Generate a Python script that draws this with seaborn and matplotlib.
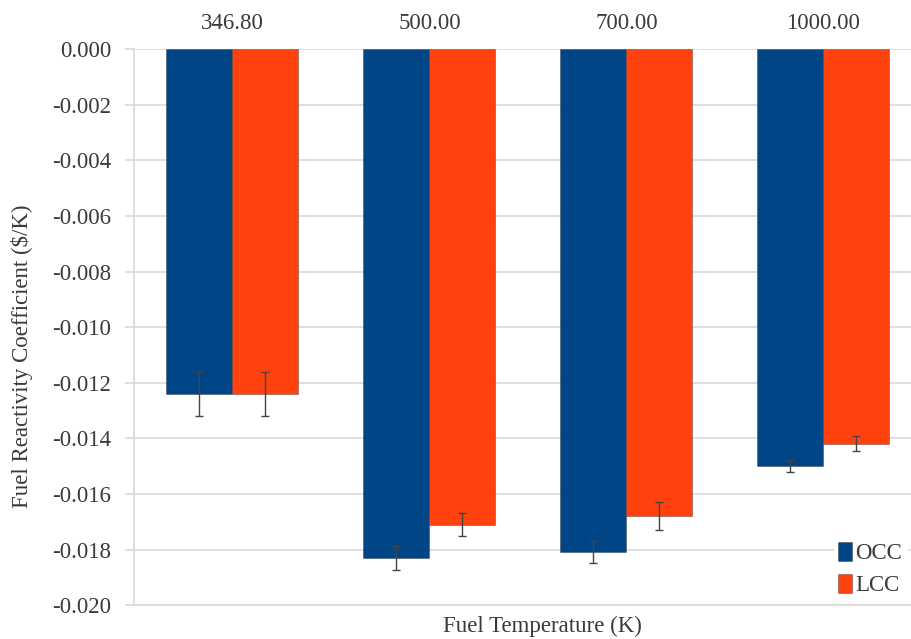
import pandas as pd
import numpy as np
import seaborn as sns
from matplotlib import pyplot as plt

temperaturas = ['346.80', '500.00', '700.00', '1000.00']
occ = [-0.0124, -0.0183, -0.0181, -0.0150]
lcc = [-0.0124, -0.0171, -0.0168, -0.0142]
occ_err = [0.0008, 0.00043, 0.0004, 0.00022]
lcc_err = [0.0008, 0.00041, 0.0005, 0.00027]
series = ['OCC', 'LCC']
colores = ['#004586', '#ff420e']
etiquetas_y = ['-0.020', '-0.018', '-0.016', '-0.014', '-0.012', '-0.010',
               '-0.008', '-0.006', '-0.004', '-0.002', '0.000']

df_ = pd.DataFrame({
    'temp': temperaturas * 2,
    'coef': occ + lcc,
    'err': occ_err + lcc_err,
    'serie': [series[0]] * 4 + [series[1]] * 4,
})

sns.set_style('white')
plt.rcParams['font.family'] = ['Liberation Serif', 'DejaVu Serif']

fig = plt.figure(figsize=(9.11, 6.39), dpi=100)
ax = fig.add_axes([0.147, 0.053, 0.865, 0.870])

sns.barplot(x='temp', y='coef', hue='serie', data=df_, order=temperaturas,
            hue_order=series, palette=colores, saturation=1, width=0.67, errorbar=None,
            edgecolor='#22222266', linewidth=0.6, ax=ax, zorder=2)

# barras de error sobre el centro de cada barra
for cont, s in zip(ax.containers, series):
    sub = df_[df_['serie'] == s]
    xs = [p.get_x() + p.get_width() / 2 for p in cont.patches]
    ax.errorbar(xs, sub['coef'], yerr=sub['err'], fmt='none', ecolor='#444444',
                elinewidth=1.0, capsize=3, capthick=1.0, zorder=3)

ax.set_ylim(-0.020, 0.0)
ax.set_xlim(-0.5, 3.5)
ax.set_yticks(np.linspace(-0.020, 0.0, 11))
ax.set_yticklabels(etiquetas_y)
ax.yaxis.grid(True, color='#d9d9d9', linewidth=1.2, zorder=0)
ax.set_axisbelow(True)
ax.xaxis.tick_top()
ax.xaxis.set_label_position('bottom')
ax.tick_params(axis='x', length=0, pad=11, labelsize=16.5, labelcolor='#3a3a3a')
ax.tick_params(axis='y', length=6.5, color='#d9d9d9', width=1.2, pad=10,
               labelsize=16.5, labelcolor='#3a3a3a', left=True)
for lado in ['top', 'right']:
    ax.spines[lado].set_visible(False)
ax.spines['left'].set_color('#d9d9d9')
ax.spines['left'].set_linewidth(1.2)
ax.spines['bottom'].set_color('#d9d9d9')
ax.spines['bottom'].set_linewidth(1.2)

ax.set_xlabel('Fuel Temperature (K)', fontsize=16.5, color='#3a3a3a')
ax.set_ylabel('Fuel Reactivity Coefficient ($/K)', fontsize=16.5, color='#3a3a3a')
ax.xaxis.set_label_coords(0.518, -0.019)
ax.yaxis.set_label_coords(-0.128, 0.448)

leg = ax.legend(loc='lower left', bbox_to_anchor=(0.915, 0.060), bbox_transform=fig.transFigure,
                frameon=True, fancybox=False, edgecolor='white', framealpha=1,
                fontsize=16.5, handlelength=0.6, handleheight=0.9, handletextpad=0.15,
                labelspacing=0.4, borderpad=0.2, borderaxespad=0)
for t in leg.get_texts():
    t.set_color('#3a3a3a')

plt.savefig('out.png', dpi=100)
